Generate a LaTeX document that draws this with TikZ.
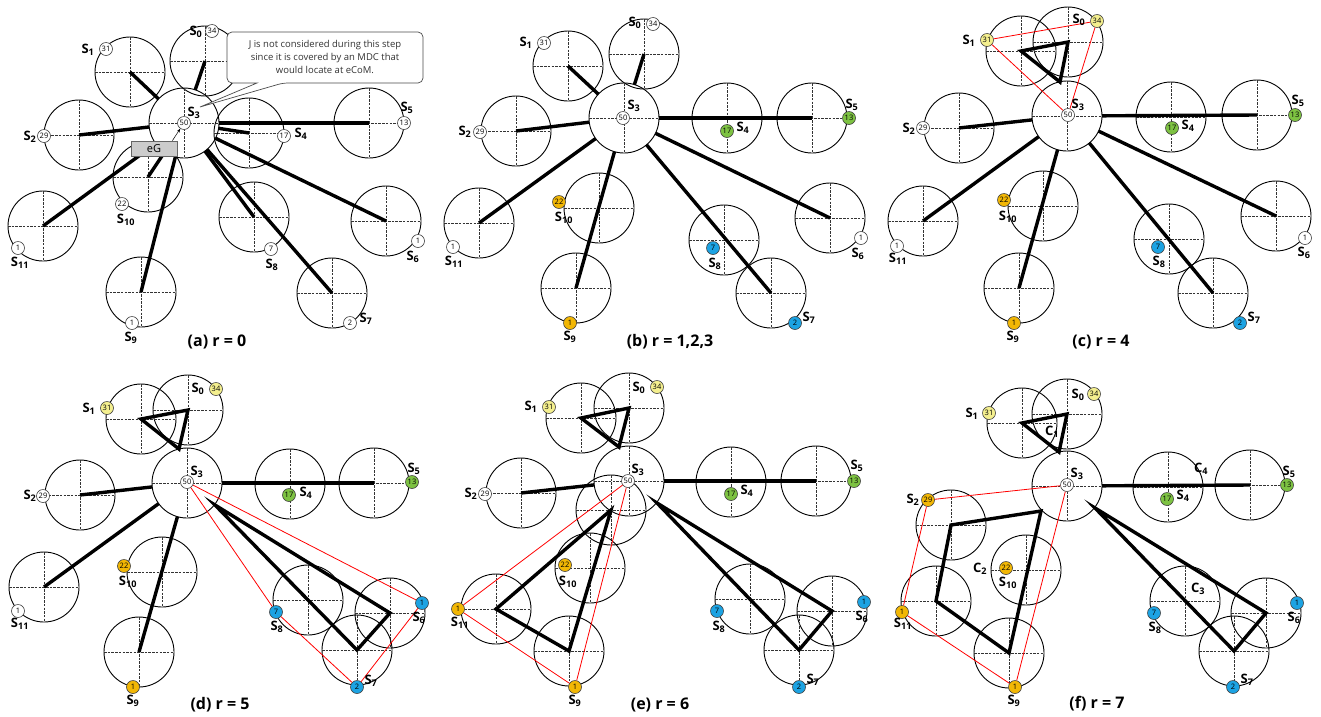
\documentclass[tikz,border=0pt]{standalone}
\usepackage{fontspec}
\setmainfont{Open Sans}
\usetikzlibrary{arrows.meta}
\definecolor{wyel}{HTML}{F4EF8E}
\definecolor{wgrn}{HTML}{7DC242}
\definecolor{worg}{HTML}{F2B705}
\definecolor{wblu}{HTML}{1CA3E3}
\tikzset{
  mdc/.pic={
    \draw[line width=0.9pt] (0,0) circle (35pt);
    \draw[line width=0.45pt, black!80, dash pattern=on 2.5pt off 1.2pt] (-35,0) -- (35,0) (0,-35) -- (0,35);
  },
  tour/.style={line width=3.4pt},
  spoke/.style={tour, shorten <=35pt},
  hull/.style={red, line width=0.8pt},
  wt/.style={circle, draw=black!75, fill=white, line width=0.6pt, minimum size=13pt,
    inner sep=0pt, font=\fontsize{7.5}{7.5}\selectfont},
  slab/.style={inner sep=0pt, font=\fontsize{13}{13}\selectfont\bfseries},
  capt/.style={font=\fontsize{16}{16}\selectfont\bfseries},
  egbox/.style={draw=black!60, fill=black!20, line width=0.8pt, minimum width=46pt,
    minimum height=15pt, inner sep=0pt, font=\fontsize{11}{11}\selectfont},
}
\begin{document}
\begin{tikzpicture}[x=1pt,y=-1pt]
  \useasboundingbox (0,0) rectangle (1321,716);

  % (a) r = 0
  \foreach \i/\x/\y in {0/205/61,1/130/72,2/79/135,3/184/123,4/249/133,5/369/123,
      6/386/221,7/332/293,8/254/217,9/141/292,10/148/177,11/43/226}
    {\coordinate (a\i) at (\x,\y); \pic at (a\i) {mdc};}
  \foreach \i in {0,1,2,4,5,6,7,8,9,10,11}
    \draw[spoke] (a3) -- (a\i);
  \foreach \i/\x/\y/\w in {0/212/31/34,1/106/49/31,2/44/136/29,3/184/123/50,4/284/136/17,
      5/404/123/13,6/418/241/1,7/350/323/2,8/271/249/7,9/132/323/1,10/122/204/22,11/18/248/1}
    \node[wt] (aw\i) at (\x,\y) {\w};
  \foreach \i/\x/\y in {0/196/32,1/88/50,2/30/137,3/194/113,4/301/134,5/407/108,
      6/413/257,7/366/319,8/272/265,9/131/338,10/126/220,11/20/263}
    \node[slab] (as\i) at (\x,\y) {S\textsubscript{\i}};
  \node[egbox] (eg) at (154,148.5) {eG};
  \draw[-{Stealth[length=4pt,width=3pt]}, line width=0.5pt] ([xshift=-5pt]eg.north east) -- (aw3);
  \draw[fill=white, draw=black!70, line width=0.7pt, rounded corners=5pt]
    (257,83) -- (227,83) -- (227,32) -- (423,32) -- (423,83) -- (283,83) [sharp corners] -- (200,107) -- cycle;
  \node[align=center, text=black!80, font=\fontsize{9.5}{13}\selectfont] (note) at (325,57)
    {J is not considered during this step\\since it is covered by an MDC that\\would locate at eCoM.};
  \node[capt] (capa) at (217,342) {(a) r = 0};

  % (b) r = 1,2,3
  \foreach \i/\x/\y in {0/644/54,1/568/66,2/516/131,3/624/118,4/727/118,5/812/118,
      6/830/218,7/771/293,8/724/240,9/576/288,10/599/208,11/479/223}
    {\coordinate (b\i) at (\x,\y); \pic at (b\i) {mdc};}
  \foreach \i in {0,1,2,5,6,7,9,11}
    \draw[spoke] (b3) -- (b\i);
  \foreach \i/\x/\y/\w/\c in {0/653/24/34/white,1/544/43/31/white,2/480/132/29/white,
      3/623/118/50/white,4/727/131/17/wgrn,5/849/118/13/wgrn,6/861/238/1/white,
      7/795/323/2/wblu,8/713/248/7/wblu,9/570/323/1/worg,10/559/202/22/worg,11/453/247/1/white}
    \node[wt, fill=\c] (bw\i) at (\x,\y) {\w};
  \foreach \i/\x/\y in {0/635/23,1/526/43,2/465/132,3/634/106,4/743/128,5/852/105,
      6/858/254,7/809/318,8/715/264,9/570/337,10/564/218,11/454/262}
    \node[slab] (bs\i) at (\x,\y) {S\textsubscript{\i}};
  \node[capt] (capb) at (670,342) {(b) r = 1,2,3};

  % (c) r = 4
  \foreach \i/\x/\y in {0/1068/42,1/1021/51,2/959/128,3/1067/116,4/1171/117,5/1257/115,
      6/1276/216,7/1213/293,8/1169/239,9/1019/288,10/1043/206,11/923/221}
    {\coordinate (c\i) at (\x,\y); \pic at (c\i) {mdc};}
  \foreach \i in {2,5,6,7,9,11}
    \draw[spoke] (c3) -- (c\i);
  \coordinate (ct) at (1060,82);
  \draw[tour] (ct) -- (c0) -- (c1) -- cycle;
  \foreach \i/\x/\y/\w/\c in {0/1097/21/34/wyel,1/987/40/31/wyel,2/923/128/29/white,
      3/1068/115/50/white,4/1172/128/17/wgrn,5/1295/115/13/wgrn,6/1305/238/1/white,
      7/1240/323/2/wblu,8/1158/247/7/wblu,9/1014/323/1/worg,10/1004/200/22/worg,11/897/246/1/white}
    \node[wt, fill=\c] (cw\i) at (\x,\y) {\w};
  \draw[hull] (cw1) -- (cw0) (cw0) -- (cw3) (cw3) -- (cw1);
  \foreach \i/\x/\y in {0/1079/20,1/969/41,2/909/129,3/1078/105,4/1188/126,5/1298/101,
      6/1304/253,7/1254/318,8/1159/262,9/1013/337,10/1008/217,11/898/259}
    \node[slab] (cs\i) at (\x,\y) {S\textsubscript{\i}};
  \node[capt] (capc) at (1101,342) {(c) r = 4};

  % (d) r = 5
  \foreach \i/\x/\y in {0/188/410,1/141/419,2/80/495,3/187/483,4/290/484,5/374/483,
      6/390/613,7/357/650,8/308/600,9/139/652,10/162/572,11/44/587}
    {\coordinate (d\i) at (\x,\y); \pic at (d\i) {mdc};}
  \foreach \i in {2,5,9,11}
    \draw[spoke] (d3) -- (d\i);
  \coordinate (dt1) at (179,449);
  \coordinate (dt2) at (215,505);
  \draw[tour] (dt1) -- (d0) -- (d1) -- cycle;
  \draw[tour] (dt2) -- (d6) -- (d7) -- cycle;
  \foreach \i/\x/\y/\w/\c in {0/216/389/34/wyel,1/107/408/31/wyel,2/43/496/29/white,
      3/187/482/50/white,4/289/495/17/wgrn,5/412/482/13/wgrn,6/422/603/1/wblu,
      7/357/687/2/wblu,8/276/612/7/wblu,9/133/687/1/worg,10/124/566/22/worg,11/18/611/1/white}
    \node[wt, fill=\c] (dw\i) at (\x,\y) {\w};
  \draw[hull] (dw3) -- (dw6) (dw6) -- (dw7) (dw7) -- (dw8) (dw8) -- (dw3);
  \foreach \i/\x/\y in {0/198/389,1/89/409,2/30/496,3/197/472,4/306/493,5/414/469,
      6/419/618,7/371/681,8/277/627,9/133/701,10/128/582,11/20/624}
    \node[slab] (ds\i) at (\x,\y) {S\textsubscript{\i}};
  \node[capt] (capd) at (220,705) {(d) r = 5};

  % (e) r = 6
  \foreach \i/\x/\y in {0/629/408,1/581/418,2/521/493,3/629/481,4/731/482,5/816/481,
      6/832/611,7/799/650,8/750/599,9/569/651,10/590/568,11/496/609}
    {\coordinate (e\i) at (\x,\y); \pic at (e\i) {mdc};}
  \coordinate (ex) at (611,510);
  \pic at (ex) {mdc};
  \foreach \i in {2,5}
    \draw[spoke] (e3) -- (e\i);
  \coordinate (et1) at (619,447);
  \coordinate (et2) at (657,503);
  \draw[tour] (et1) -- (e0) -- (e1) -- cycle;
  \draw[tour] (et2) -- (e6) -- (e7) -- cycle;
  \draw[tour] (ex) -- (e11) -- (e9) -- cycle;
  \foreach \i/\x/\y/\w/\c in {0/657/387/34/wyel,1/549/407/31/wyel,2/485/494/29/white,
      3/628/481/50/white,4/731/494/17/wgrn,5/854/481/13/wgrn,6/864/602/1/wblu,
      7/799/687/2/wblu,8/717/611/7/wblu,9/575/687/1/worg,10/565/565/22/worg,11/458/609/1/worg}
    \node[wt, fill=\c] (ew\i) at (\x,\y) {\w};
  \draw[hull] (ew3) -- (ew11) (ew11) -- (ew9) (ew9) -- (ew3);
  \foreach \i/\x/\y in {0/639/388,1/531/407,2/471/494,3/638/470,4/747/491,5/857/466,
      6/862/617,7/813/680,8/719/627,9/575/701,10/568/582,11/460/623}
    \node[slab] (es\i) at (\x,\y) {S\textsubscript{\i}};
  \node[capt] (cape) at (660,705) {(e) r = 6};

  % (f) r = 7
  \foreach \i/\x/\y in {0/1067/414,1/1022/423,2/951/525,3/1067/486,4/1168/487,5/1250/485,
      6/1266/613,7/1234/651,8/1185/601,9/1009/653,10/1026/570,11/936/601}
    {\coordinate (f\i) at (\x,\y); \pic at (f\i) {mdc};}
  \draw[spoke] (f3) -- (f5);
  \coordinate (ft1) at (1059,452);
  \coordinate (ft2) at (1095,508);
  \coordinate (ft3) at (1041,511);
  \draw[tour] (ft1) -- (f0) -- (f1) -- cycle;
  \draw[tour] (ft2) -- (f6) -- (f7) -- cycle;
  \draw[tour] (ft3) -- (f2) -- (f11) -- (f9) -- cycle;
  \foreach \i/\x/\y/\w/\c in {0/1094/394/34/wyel,1/989/413/31/wyel,2/928/500/29/worg,
      3/1067/485/50/white,4/1167/499/17/wgrn,5/1287/485/13/wgrn,6/1297/603/1/wblu,
      7/1233/687/2/wblu,8/1154/613/7/wblu,9/1015/687/1/worg,10/1006/568/22/worg,11/902/612/1/worg}
    \node[wt, fill=\c] (fw\i) at (\x,\y) {\w};
  \draw[hull] (fw3) -- (fw2) (fw2) -- (fw11) (fw11) -- (fw9) (fw9) -- (fw3);
  \foreach \i/\x/\y in {0/1078/395,1/972/414,2/913/500,3/1077/474,4/1183/496,5/1289/472,
      6/1294/618,7/1247/680,8/1155/628,9/1014/701,10/1008/583,11/903/624}
    \node[slab] (fs\i) at (\x,\y) {S\textsubscript{\i}};
  \node[slab] (fC1) at (1052,432) {C\textsubscript{1}};
  \node[slab] (fC2) at (980,569) {C\textsubscript{2}};
  \node[slab] (fC3) at (1198,589) {C\textsubscript{3}};
  \node[slab] (fC4) at (1201,469) {C\textsubscript{4}};
  \node[capt] (capf) at (1097,704) {(f) r = 7};
\end{tikzpicture}
\end{document}
